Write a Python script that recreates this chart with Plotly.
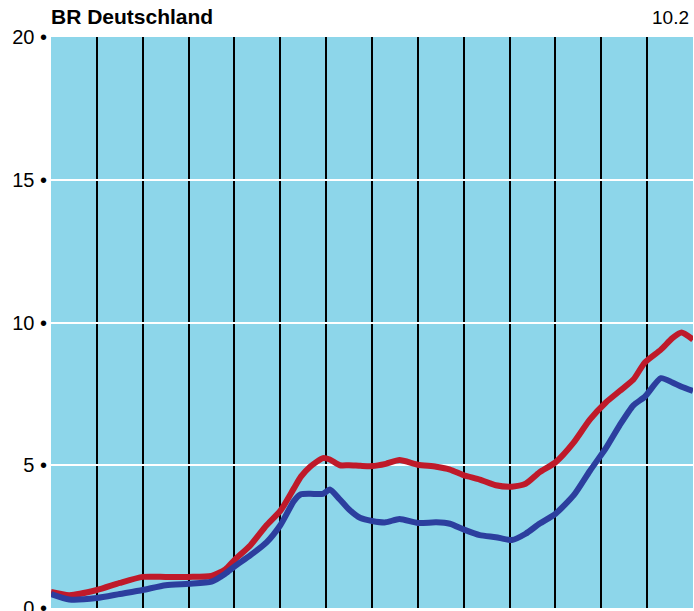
import plotly.graph_objects as go

years = [1960.0, 1960.4, 1961.0, 1961.5, 1962.0, 1962.5, 1963.0, 1963.5, 1963.8, 1964.0,
         1964.35, 1964.7, 1965.0, 1965.3, 1965.45, 1965.65, 1965.93, 1966.08, 1966.3, 1966.5,
         1966.75, 1967.0, 1967.3, 1967.6, 1968.0, 1968.4, 1968.7, 1969.0, 1969.35, 1969.7,
         1970.05, 1970.35, 1970.65, 1971.0, 1971.4, 1971.75, 1972.1, 1972.4, 1972.7, 1972.95,
         1973.3, 1973.55, 1973.75, 1974.0]

red_values = [0.56, 0.45, 0.63, 0.88, 1.09, 1.09, 1.09, 1.12, 1.35, 1.68,
              2.2, 2.9, 3.4, 4.2, 4.6, 4.95, 5.25, 5.2, 5.0, 5.0,
              4.98, 4.97, 5.05, 5.18, 5.02, 4.95, 4.85, 4.65, 4.5, 4.3,
              4.25, 4.35, 4.75, 5.1, 5.8, 6.6, 7.2, 7.6, 8.0, 8.6,
              9.05, 9.45, 9.65, 9.4]

blue_values = [0.49, 0.3, 0.35, 0.49, 0.63, 0.8, 0.85, 0.92, 1.2, 1.45,
               1.85, 2.3, 2.9, 3.75, 3.98, 4.0, 4.0, 4.15, 3.8, 3.45,
               3.15, 3.05, 3.0, 3.12, 2.98, 3.0, 2.95, 2.75, 2.55, 2.48,
               2.38, 2.6, 2.95, 3.3, 3.95, 4.8, 5.6, 6.4, 7.1, 7.4,
               8.05, 7.9, 7.75, 7.6]

y_ticks = [0, 5, 10, 15, 20]
y_tick_labels = ["0 •", "5 •", "10 •", "15 •", "20 •"]
title_text = "BR Deutschland"
figure_number = "10.2"

fig = go.Figure()
fig.add_trace(go.Scatter(x=years, y=red_values, mode="lines",
                         line=dict(color="#bf1a2a", width=6, shape="spline", smoothing=0.6),
                         showlegend=False, hoverinfo="skip"))
fig.add_trace(go.Scatter(x=years, y=blue_values, mode="lines",
                         line=dict(color="#2c3e9e", width=6, shape="spline", smoothing=0.6),
                         showlegend=False, hoverinfo="skip"))

fig.update_layout(
    width=694, height=611,
    margin=dict(l=51, r=1, t=37, b=3, autoexpand=False),
    paper_bgcolor="white",
    plot_bgcolor="#8dd6ea",
    font=dict(family="Liberation Sans, Arial, sans-serif", color="black"),
    xaxis=dict(range=[1960, 1974], tickmode="linear", tick0=1960, dtick=1,
               showgrid=True, gridcolor="black", gridwidth=1.6,
               showticklabels=False, ticks="", zeroline=False, showline=False,
               automargin=False, fixedrange=True),
    yaxis=dict(range=[0, 20], tickmode="array", tickvals=y_ticks, ticktext=y_tick_labels,
               showgrid=True, gridcolor="white", gridwidth=2,
               ticks="", zeroline=False, showline=False, automargin=False,
               ticklabeloverflow="allow",
               tickfont=dict(size=20), ticklabelstandoff=3, fixedrange=True),
    annotations=[
        dict(text="<b>" + title_text + "</b>", xref="paper", yref="paper",
             x=0.0, y=1.0, xanchor="left", yanchor="bottom", yshift=7, xshift=-2,
             showarrow=False, font=dict(size=21)),
        dict(text=figure_number, xref="paper", yref="paper",
             x=1.0, y=1.0, xanchor="right", yanchor="bottom", yshift=7, xshift=-2,
             showarrow=False, font=dict(size=19)),
    ],
)

fig.write_html("out.html", config={"displayModeBar": False},
               post_script="document.body.style.margin='0';document.body.style.overflow='hidden';")
